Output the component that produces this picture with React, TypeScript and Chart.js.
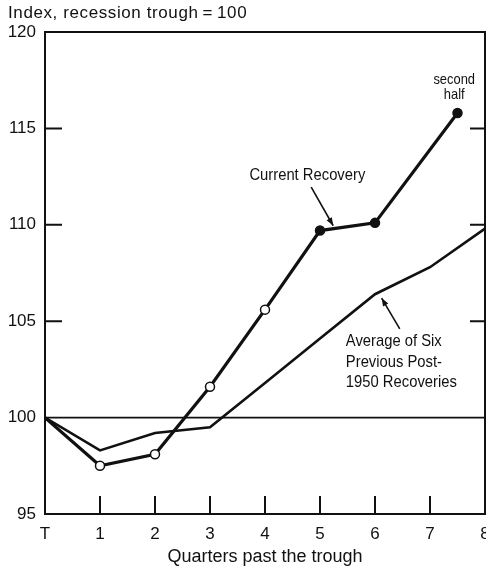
import React, { useEffect, useRef } from "react";
import { Chart, registerables } from "chart.js";

Chart.register(...registerables);

// ---- data ----
const quarterTicks = ["T", "1", "2", "3", "4", "5", "6", "7", "8"];
const currentX = [0, 1, 2, 3, 4, 5, 6, 7.5];
const currentY = [100, 97.5, 98.1, 101.6, 105.6, 109.7, 110.1, 115.8];
const currentMarker = ["none", "open", "open", "open", "open", "filled", "filled", "filled"];
const averageX = [0, 1, 2, 3, 4, 5, 6, 7, 8];
const averageY = [100, 98.3, 99.2, 99.5, 101.8, 104.1, 106.4, 107.8, 109.8];
const yTicks = [95, 100, 105, 110, 115, 120];
const baseline = 100;

const titleText = "Index, recession trough\u2009=\u2009100";
const xTitleText = "Quarters past the trough";

// annotations anchored in data units
const currentLabel = { text: ["Current Recovery"], x: 4.77, y: 112.55 };
const currentArrow = { from: [4.84, 111.95], to: [5.24, 109.95] };
const averageLabel = {
  text: ["Average of Six", "Previous Post-", "1950 Recoveries"],
  x: 5.47,
  y: 103.95,
};
const averageArrow = { from: [6.45, 104.6], to: [6.12, 106.2] };
const halfLabel = { text: ["second", "half"], x: 7.44, y: 117.5 };

const FONT = "'Liberation Sans', Arial, Helvetica, sans-serif";

function drawArrow(ctx: CanvasRenderingContext2D, x1: number, y1: number, x2: number, y2: number) {
  ctx.save();
  ctx.strokeStyle = "#111";
  ctx.fillStyle = "#111";
  ctx.lineWidth = 1.6;
  ctx.beginPath();
  ctx.moveTo(x1, y1);
  ctx.lineTo(x2, y2);
  ctx.stroke();
  const ang = Math.atan2(y2 - y1, x2 - x1);
  const len = 8;
  const w = 3;
  ctx.beginPath();
  ctx.moveTo(x2, y2);
  ctx.lineTo(x2 - len * Math.cos(ang) + w * Math.sin(ang), y2 - len * Math.sin(ang) - w * Math.cos(ang));
  ctx.lineTo(x2 - len * Math.cos(ang) - w * Math.sin(ang), y2 - len * Math.sin(ang) + w * Math.cos(ang));
  ctx.closePath();
  ctx.fill();
  ctx.restore();
}

function drawNarrowText(
  ctx: CanvasRenderingContext2D,
  lines: string[],
  x: number,
  y: number,
  size: number,
  lineH: number,
  sx: number,
  align: CanvasTextAlign
) {
  ctx.save();
  ctx.fillStyle = "#111";
  ctx.font = `${size}px ${FONT}`;
  ctx.textAlign = align;
  ctx.textBaseline = "middle";
  lines.forEach((t, i) => {
    ctx.save();
    ctx.translate(x, y + i * lineH);
    ctx.scale(sx, 1);
    ctx.fillText(t, 0, 0);
    ctx.restore();
  });
  ctx.restore();
}

const framePlugin = {
  id: "frame",
  beforeDatasetsDraw(chart: any) {
    const { ctx, chartArea } = chart;
    const ys = chart.scales.y;
    const py = ys.getPixelForValue(baseline);
    ctx.save();
    ctx.strokeStyle = "#111";
    ctx.lineWidth = 1.8;
    ctx.beginPath();
    ctx.moveTo(chartArea.left, py);
    ctx.lineTo(chartArea.right, py);
    ctx.stroke();
    ctx.restore();
  },
  afterDatasetsDraw(chart: any) {
    const { ctx, chartArea } = chart;
    const xs = chart.scales.x;
    const ys = chart.scales.y;
    const { left, right, top, bottom } = chartArea;
    ctx.save();
    ctx.strokeStyle = "#111";
    ctx.lineWidth = 2;
    ctx.strokeRect(left, top, right - left, bottom - top);
    // inward ticks
    ctx.lineWidth = 2;
    yTicks.forEach((v) => {
      if (v === yTicks[0] || v === yTicks[yTicks.length - 1] || v === baseline) return;
      const p = ys.getPixelForValue(v);
      ctx.beginPath();
      ctx.moveTo(left, p);
      ctx.lineTo(left + 17, p);
      ctx.moveTo(right, p);
      ctx.lineTo(right - 15, p);
      ctx.stroke();
    });
    quarterTicks.forEach((_, i) => {
      if (i === 0 || i === quarterTicks.length - 1) return;
      const p = xs.getPixelForValue(i);
      ctx.beginPath();
      ctx.moveTo(p, bottom);
      ctx.lineTo(p, bottom - 18);
      ctx.stroke();
    });
    ctx.restore();

    // title
    ctx.save();
    ctx.fillStyle = "#111";
    ctx.font = `17px ${FONT}`;
    (ctx as any).letterSpacing = "0.6px";
    ctx.textAlign = "left";
    ctx.textBaseline = "middle";
    ctx.fillText(titleText, 8, 13);
    (ctx as any).letterSpacing = "0px";
    ctx.font = `18px ${FONT}`;
    ctx.textAlign = "center";
    ctx.fillText(xTitleText, (left + right) / 2, 557);
    ctx.restore();

    const P = (x: number, y: number) => [xs.getPixelForValue(x), ys.getPixelForValue(y)];
    let [a, b] = P(currentLabel.x, currentLabel.y);
    drawNarrowText(ctx, currentLabel.text, a, b, 17, 20, 0.87, "center");
    let [f1, f2] = P(currentArrow.from[0], currentArrow.from[1]);
    let [t1, t2] = P(currentArrow.to[0], currentArrow.to[1]);
    drawArrow(ctx, f1, f2, t1, t2);

    [a, b] = P(averageLabel.x, averageLabel.y);
    drawNarrowText(ctx, averageLabel.text, a, b, 17, 20.5, 0.87, "left");
    [f1, f2] = P(averageArrow.from[0], averageArrow.from[1]);
    [t1, t2] = P(averageArrow.to[0], averageArrow.to[1]);
    drawArrow(ctx, f1, f2, t1, t2);

    [a, b] = P(halfLabel.x, halfLabel.y);
    drawNarrowText(ctx, halfLabel.text, a, b, 15, 14.5, 0.86, "center");
  },
};

export default function App() {
  const ref = useRef<HTMLCanvasElement | null>(null);
  useEffect(() => {
    if (!ref.current) return;
    const chart = new Chart(ref.current, {
      type: "line",
      data: {
        datasets: [
          {
            label: "Current Recovery",
            data: currentX.map((x, i) => ({ x, y: currentY[i] })),
            borderColor: "#111",
            borderWidth: 3.2,
            pointRadius: currentMarker.map((m) => (m === "none" ? 0 : m === "open" ? 4.5 : 4.5)),
            pointBackgroundColor: currentMarker.map((m) => (m === "filled" ? "#111" : "#fff")),
            pointBorderColor: "#111",
            pointBorderWidth: 1.5,
            tension: 0,
            order: 1,
          },
          {
            label: "Average of Six Previous Post-1950 Recoveries",
            data: averageX.map((x, i) => ({ x, y: averageY[i] })),
            borderColor: "#111",
            borderWidth: 2.6,
            pointRadius: 0,
            tension: 0,
            order: 2,
          },
        ],
      },
      options: {
        animation: false,
        responsive: false,
        layout: { padding: { top: 32, right: 15, left: 0, bottom: 0 } },
        plugins: { legend: { display: false }, tooltip: { enabled: false } },
        scales: {
          x: {
            type: "linear",
            min: 0,
            max: 8,
            grid: { display: false, drawTicks: false },
            border: { display: false },
            ticks: {
              stepSize: 1,
              padding: 10,
              color: "#111",
              font: { size: 17, family: FONT },
              callback: (v: any) => quarterTicks[Number(v)] ?? "",
              maxRotation: 0,
            },
            afterFit: (s: any) => {
              s.height = 57;
            },
          },
          y: {
            type: "linear",
            min: 95,
            max: 120,
            grid: { display: false, drawTicks: false },
            border: { display: false },
            ticks: {
              stepSize: 5,
              padding: 9,
              color: "#111",
              font: { size: 17, family: FONT },
            },
            afterFit: (s: any) => {
              s.width = 45;
            },
          },
        },
      },
      plugins: [framePlugin],
    });
    return () => chart.destroy();
  }, []);
  return (
    <div style={{ position: "fixed", left: 0, top: 0, width: 486, height: 571, overflow: "hidden", background: "#fff" }}>
      <canvas ref={ref} width={500} height={571} style={{ width: 500, height: 571, display: "block" }} />
    </div>
  );
}
